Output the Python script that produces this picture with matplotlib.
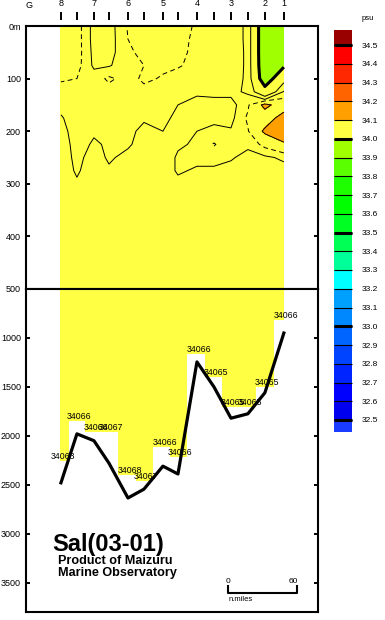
import numpy as np
import matplotlib
matplotlib.use("Agg")
import matplotlib.pyplot as plt
from matplotlib.colors import ListedColormap

plt.rcParams["font.family"] = ["Liberation Sans", "DejaVu Sans"]

# ------------------------------------------------------------
# Section data
# ------------------------------------------------------------

# stations along the section, distance in n.miles from the left frame
station_names = ["8", "", "7", "", "6", "", "5", "", "4", "", "3", "", "2", "1"]
station_dist = [30.4, 44.3, 59.1, 72.2, 88.7, 102.6, 119.1, 132.2,
                148.7, 163.5, 178.3, 193.0, 207.8, 224.3]

# deepest observation of each cast (m) and the value printed there
obs_depth = [2260, 1850, 1960, 1960, 2400, 2460, 2110, 2215,
             1165, 1400, 1705, 1705, 1500, 820]
obs_label = ["34063", "34066", "34066", "34067", "34068", "34067", "34066",
             "34066", "34066", "34065", "34065", "34065", "34065", "34066"]

# sea bottom under each station (m)
bottom_depth = [2480, 1980, 2050, 2280, 2635, 2545, 2310, 2390,
                1245, 1500, 1820, 1775, 1560, 950]

# sampling depths (m)
depths = [0, 25, 50, 75, 100, 125, 150, 175, 200, 225, 250, 275, 300,
          350, 400, 500, 1000, 2000, 3000, 3800]

# salinity (psu), one row per station, one value per depth
salinity = [
    [34.084, 34.084, 34.084, 34.083, 34.081, 34.077, 34.073, 34.069, 34.067, 34.066,
     34.066, 34.066, 34.066, 34.066, 34.066, 34.066, 34.066, 34.066, 34.066, 34.066],
    [34.085, 34.085, 34.085, 34.084, 34.080, 34.077, 34.076, 34.075, 34.074, 34.073,
     34.072, 34.071, 34.069, 34.066, 34.066, 34.066, 34.066, 34.066, 34.066, 34.066],
    [34.066, 34.066, 34.067, 34.068, 34.075, 34.076, 34.075, 34.073, 34.071, 34.069,
     34.067, 34.066, 34.066, 34.066, 34.066, 34.066, 34.066, 34.066, 34.066, 34.066],
    [34.065, 34.065, 34.066, 34.069, 34.082, 34.076, 34.074, 34.073, 34.072, 34.071,
     34.071, 34.069, 34.066, 34.066, 34.066, 34.066, 34.066, 34.066, 34.066, 34.066],
    [34.081, 34.080, 34.078, 34.076, 34.076, 34.075, 34.074, 34.073, 34.072, 34.071,
     34.068, 34.066, 34.066, 34.066, 34.066, 34.066, 34.066, 34.066, 34.066, 34.066],
    [34.084, 34.084, 34.083, 34.080, 34.082, 34.077, 34.074, 34.071, 34.068, 34.067,
     34.066, 34.066, 34.066, 34.066, 34.066, 34.066, 34.066, 34.066, 34.066, 34.066],
    [34.085, 34.085, 34.084, 34.082, 34.079, 34.076, 34.074, 34.072, 34.070, 34.068,
     34.066, 34.066, 34.066, 34.066, 34.066, 34.066, 34.066, 34.066, 34.066, 34.066],
    [34.083, 34.083, 34.082, 34.081, 34.076, 34.073, 34.070, 34.068, 34.068, 34.069,
     34.071, 34.071, 34.068, 34.066, 34.066, 34.066, 34.066, 34.066, 34.066, 34.066],
    [34.079, 34.078, 34.078, 34.077, 34.075, 34.072, 34.066, 34.068, 34.070, 34.071,
     34.072, 34.069, 34.067, 34.066, 34.066, 34.066, 34.066, 34.066, 34.066, 34.066],
    [34.076, 34.076, 34.076, 34.077, 34.076, 34.073, 34.066, 34.068, 34.072, 34.081,
     34.074, 34.068, 34.066, 34.066, 34.066, 34.066, 34.066, 34.066, 34.066, 34.066],
    [34.075, 34.075, 34.076, 34.076, 34.075, 34.073, 34.066, 34.067, 34.071, 34.072,
     34.071, 34.067, 34.066, 34.066, 34.066, 34.066, 34.066, 34.066, 34.066, 34.066],
    [34.068, 34.068, 34.068, 34.068, 34.068, 34.068, 34.078, 34.082, 34.079, 34.072,
     34.067, 34.066, 34.066, 34.066, 34.066, 34.066, 34.066, 34.066, 34.066, 34.066],
    [33.960, 33.960, 33.960, 33.962, 33.970, 34.020, 34.106, 34.088, 34.104, 34.084,
     34.068, 34.066, 34.066, 34.066, 34.066, 34.066, 34.066, 34.066, 34.066, 34.066],
    [33.950, 33.950, 33.965, 33.994, 34.040, 34.072, 34.088, 34.110, 34.125, 34.095,
     34.072, 34.066, 34.066, 34.066, 34.066, 34.066, 34.066, 34.066, 34.066, 34.066],
]

# colour bands, 32.5 .. 34.5 psu in 0.1 steps
band_levels = [32.5, 32.6, 32.7, 32.8, 32.9, 33.0, 33.1, 33.2, 33.3, 33.4, 33.5,
               33.6, 33.7, 33.8, 33.9, 34.0, 34.1, 34.2, 34.3, 34.4, 34.5]
band_colors = ["#0000ee", "#0000ff", "#0024ff", "#0044ff", "#0064ff",
               "#0088ff", "#00a0ff", "#00ffff", "#00ff99", "#00ff55",
               "#00ff22", "#00ff00", "#1eff00", "#5aff00", "#a0ff00",
               "#ffff44", "#ffa000", "#ff6400", "#ff2800", "#ff0000"]

# ------------------------------------------------------------
# Figure
# ------------------------------------------------------------

fig = plt.figure(figsize=(3.85, 6.2), dpi=100)

ax_top = fig.add_axes([26 / 385, 1 - 289 / 620, 292 / 385, 263 / 620])
ax_bot = fig.add_axes([26 / 385, 1 - 612 / 620, 292 / 385, 323 / 620])
cax = fig.add_axes([334 / 385, 1 - 432 / 620, 18 / 385, 402 / 620])

cmap = ListedColormap(band_colors).with_extremes(over="#990000", under="#1a3cff")

X, Z = np.meshgrid(station_dist, depths)
S = np.array(salinity).T

thin_dash = (0, (5, 3.5))

for ax in (ax_top, ax_bot):

    cf = ax.contourf(X, Z, S, levels=band_levels, cmap=cmap, extend="both")

    ax.contour(X, Z, S, levels=[34.05, 34.07, 34.10], colors="k",
               linewidths=0.7, linestyles="solid")
    ax.contour(X, Z, S, levels=[34.08], colors="k",
               linewidths=0.7, linestyles=[thin_dash])
    ax.contour(X, Z, S, levels=[34.0], colors="k", linewidths=2.2)

    ax.set_xlim(0, 254)
    ax.set_xticks([])

    ax.tick_params(axis="y", direction="in", length=3, width=1.4,
                   left=True, right=True, labelsize=6.5, pad=3.6)

    for sp in ax.spines.values():
        sp.set_linewidth(1.5)

ax_top.set_ylim(500, 0)
ax_top.set_yticks([0, 100, 200, 300, 400], ["0m", "100", "200", "300", "400"])

ax_bot.set_ylim(3800, 500)
ax_bot.set_yticks([500, 1000, 1500, 2000, 2500, 3000, 3500])

# ------------------------------------------------------------
# Blank out below the deepest observation of each cast
# ------------------------------------------------------------

edges = [station_dist[0] - 1]
edges += [(a + b) / 2 for a, b in zip(station_dist[:-1], station_dist[1:])]
edges += [station_dist[-1] + 1]

ax_bot.bar(edges[:-1], [3800 - d for d in obs_depth], width=np.diff(edges),
           bottom=obs_depth, align="edge", color="white", linewidth=0, zorder=2)

ax_bot.plot(station_dist, bottom_depth, color="k", linewidth=2.3, zorder=4)

for x, d, lab in zip(station_dist, obs_depth, obs_label):

    ax_bot.annotate(lab, (x, d), xytext=(1.2, 0), textcoords="offset points",
                    ha="center", va="bottom", fontsize=6.3, zorder=5)

# ------------------------------------------------------------
# Station ticks above the frame
# ------------------------------------------------------------

sec = ax_top.secondary_xaxis(1 + 6 / 263)
sec.set_xticks(station_dist, station_names)
sec.tick_params(direction="out", length=5.8, width=1.4, labelsize=6.5, pad=2.5)

for sp in sec.spines.values():
    sp.set_visible(False)

fig.text(29 / 385, 1 - 6 / 620, "G", ha="center", va="center", fontsize=6.5)

# ------------------------------------------------------------
# Colour bar
# ------------------------------------------------------------

cb = fig.colorbar(cf, cax=cax, extendfrac=(0.032, 0.04), extendrect=True,
                  drawedges=True, ticks=band_levels)

cb.set_ticklabels([f"{v:.1f}" for v in band_levels])
cb.outline.set_visible(False)
cb.dividers.set_color("k")
cb.dividers.set_linewidth(0.8)

cax.tick_params(length=0, pad=7, labelsize=6)

for v in [32.5, 33.0, 33.5, 34.0, 34.5]:
    cax.axhline(v, color="k", linewidth=2.2, clip_on=False, zorder=5,
                solid_capstyle="butt")

fig.text(368 / 385, 1 - 18 / 620, "psu", ha="center", va="center", fontsize=5.5)

# ------------------------------------------------------------
# Title block and scale bar
# ------------------------------------------------------------

fig.text(52 / 385, 1 - 551 / 620, "Sal(03-01)", fontsize=17,
         fontweight="bold", ha="left", va="baseline")
fig.text(58 / 385, 1 - 564 / 620, "Product of Maizuru", fontsize=9.1,
         fontweight="bold", ha="left", va="baseline")
fig.text(58 / 385, 1 - 576 / 620, "Marine Observatory", fontsize=9.1,
         fontweight="bold", ha="left", va="baseline")

scale_x0 = 176
scale_len = 60

ax_bot.plot([scale_x0, scale_x0, scale_x0 + scale_len, scale_x0 + scale_len],
            [3534, 3606, 3606, 3534], color="k", linewidth=1.5, zorder=5)

ax_bot.text(scale_x0, 3493, "0", ha="center", va="center", fontsize=6)
ax_bot.text(scale_x0 + scale_len - 3.5, 3493, str(scale_len),
            ha="center", va="center", fontsize=6)
ax_bot.text(187, 3677, "n.miles", ha="center", va="center", fontsize=5.5)

fig.savefig("out.png", dpi=100)
